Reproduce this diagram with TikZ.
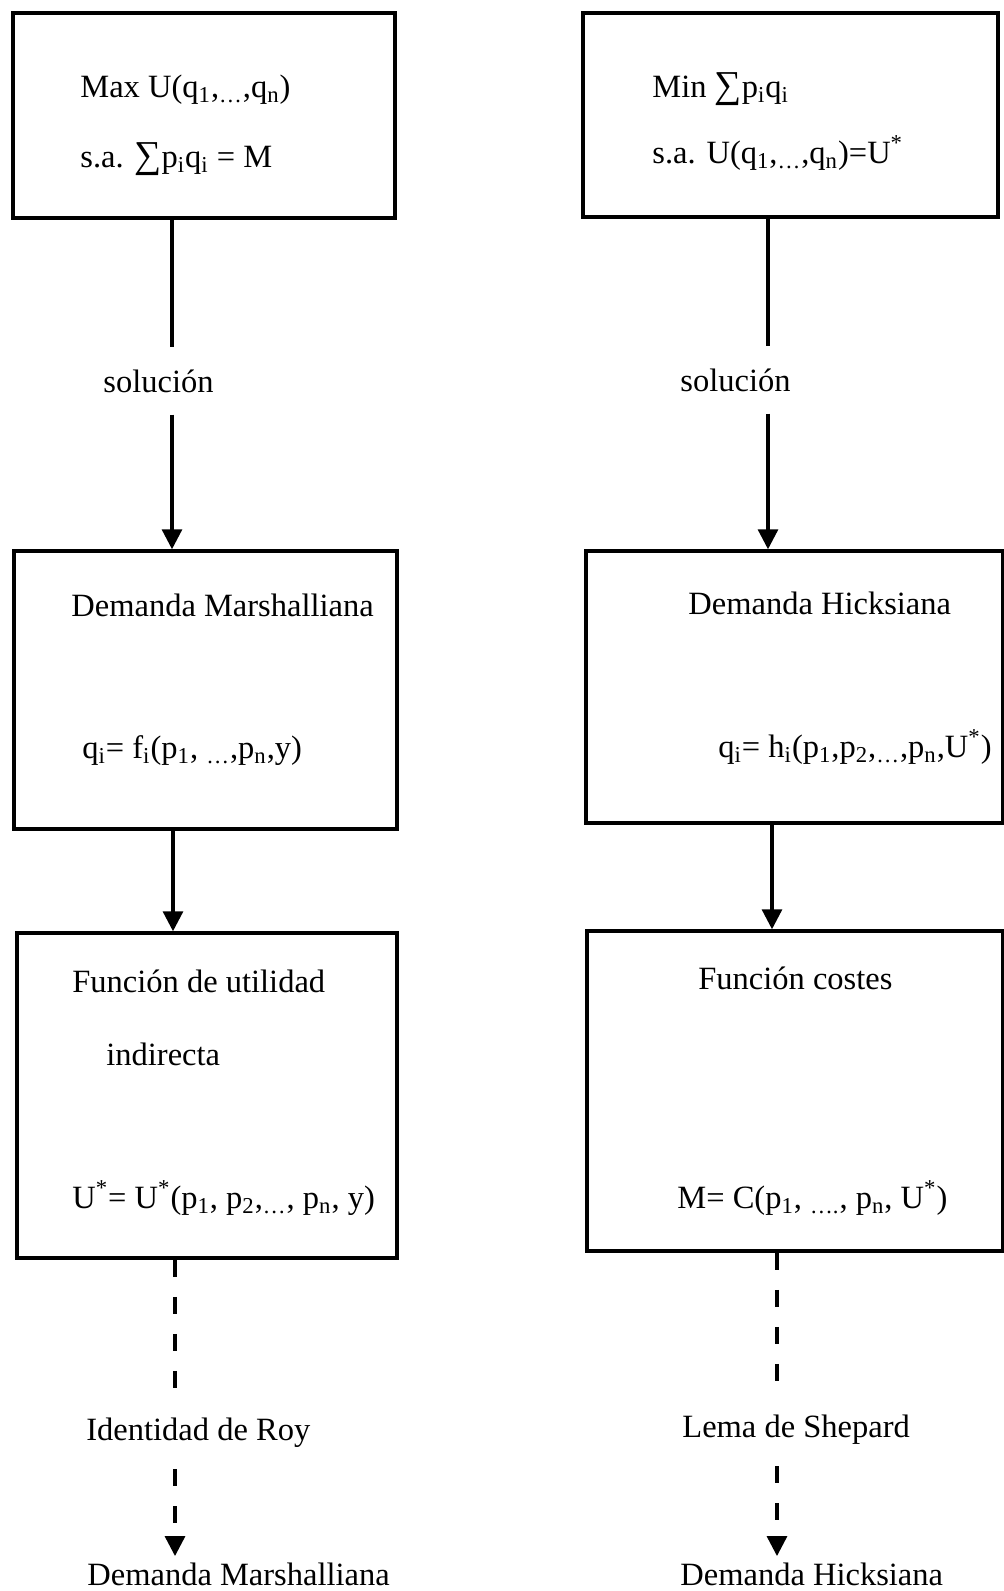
\documentclass[tikz,border=0pt]{standalone}
\usepackage{fontspec}
\setmainfont{Liberation Serif}
\usetikzlibrary{arrows.meta,positioning}
\newcommand{\idx}[1]{\textsubscript{#1}}
\newcommand{\ust}{U\textsuperscript{*}}
\newcommand{\bigsum}{{\fontsize{19}{19}\selectfont ∑}}
\tikzset{
    box/.style={rectangle, draw, line width=1.75pt},
    txt/.style={anchor=base west, inner sep=0pt},
    lbl/.style={anchor=base west, inner xsep=0pt, inner ysep=11pt},
    endlbl/.style={anchor=base west, inner xsep=0pt, inner ysep=3pt},
    link/.style={line width=1.6pt},
    dashlink/.style={line width=1.6pt, dash pattern=on 8.5pt off 10pt}
}
\begin{document}
\begin{tikzpicture}[
                    x=0.5pt, y=-0.5pt,
                    >={Triangle[width=10pt,length=10pt]},
                    font=\fontsize{16.25}{19}\selectfont
                ]
                \useasboundingbox (0,0) rectangle (1003,1591);
                % Blocks
                \node [box, minimum width=191pt, minimum height=102.5pt] (maxU) at (204,115.5) {};
                \node [box, minimum width=207.5pt, minimum height=102pt] (minC) at (790.5,115) {};
                \node [box, minimum width=191.5pt, minimum height=139pt] (marsh) at (205.5,690) {};
                \node [box, minimum width=208.5pt, minimum height=136pt] (hicks) at (794.5,687) {};
                \node [box, minimum width=190pt, minimum height=162.5pt] (indir) at (207,1095.5) {};
                \node [box, minimum width=208pt, minimum height=160pt] (costs) at (795,1091) {};

                % Texts in the blocks
                \node [txt] (maxA) at (80,97) {Max U(q\idx{1},\idx{…},q\idx{n})};
                \node [txt] (maxB) at (80,167) {s.a. \bigsum p\idx{i}q\idx{i} = M};
                \node [txt] (minA) at (652,97) {Min \bigsum p\idx{i}q\idx{i}};
                \node [txt] (minB) at (652,163) {s.a. U(q\idx{1},\idx{…},q\idx{n})=\ust};
                \node [txt] (marshA) at (71,616) {Demanda Marshalliana};
                \node [txt] (marshB) at (82,758) {q\idx{i}= f\idx{i}(p\idx{1}, \idx{…},p\idx{n},y)};
                \node [txt] (hicksA) at (688,614) {Demanda Hicksiana};
                \node [txt] (hicksB) at (718,757) {q\idx{i}= h\idx{i}(p\idx{1},p\idx{2},\idx{…},p\idx{n},\ust)};
                \node [txt] (indirA) at (72,992) {Función de utilidad};
                \node [txt] (indirB) at (106,1065) {indirecta};
                \node [txt] (indirC) at (72,1208) {\ust= \ust(p\idx{1}, p\idx{2},\idx{…}, p\idx{n}, y)};
                \node [txt] (costsA) at (698,989) {Función costes};
                \node [txt] (costsB) at (677,1208) {M= C(p\idx{1}, \idx{….}, p\idx{n}, \ust)};

                % Labels on the links
                \node [lbl] (solL) at (103,392) {solución};
                \node [lbl] (solR) at (680,391) {solución};
                \node [lbl] (roy) at (86,1440) {Identidad de Roy};
                \node [lbl] (shep) at (682,1437) {Lema de Shepard};
                \node [endlbl] (outL) at (87,1585) {Demanda Marshalliana};
                \node [endlbl] (outR) at (680,1585) {Demanda Hicksiana};

                % Columns of the links
                \coordinate (xL) at (172,0);
                \coordinate (xLb) at (173,0);
                \coordinate (xLc) at (175,0);
                \coordinate (xR) at (768,0);
                \coordinate (xRb) at (772,0);
                \coordinate (xRc) at (777,0);

                % Connections
                \draw [link] (maxU.south -| xL) -- (solL.north -| xL);
                \draw [link,->] (solL.south -| xL) -- (marsh.north -| xL);
                \draw [link] (minC.south -| xR) -- (solR.north -| xR);
                \draw [link,->] (solR.south -| xR) -- (hicks.north -| xR);
                \draw [link,->] (marsh.south -| xLb) -- (indir.north -| xLb);
                \draw [link,->] (hicks.south -| xRb) -- (costs.north -| xRb);
                \draw [dashlink] (indir.south -| xLc) -- (roy.north -| xLc);
                \draw [dashlink,->] (roy.south -| xLc) -- (outL.north -| xLc);
                \draw [dashlink] (costs.south -| xRc) -- (shep.north -| xRc);
                \draw [dashlink,->] (shep.south -| xRc) -- (outR.north -| xRc);
\end{tikzpicture}
\end{document}
